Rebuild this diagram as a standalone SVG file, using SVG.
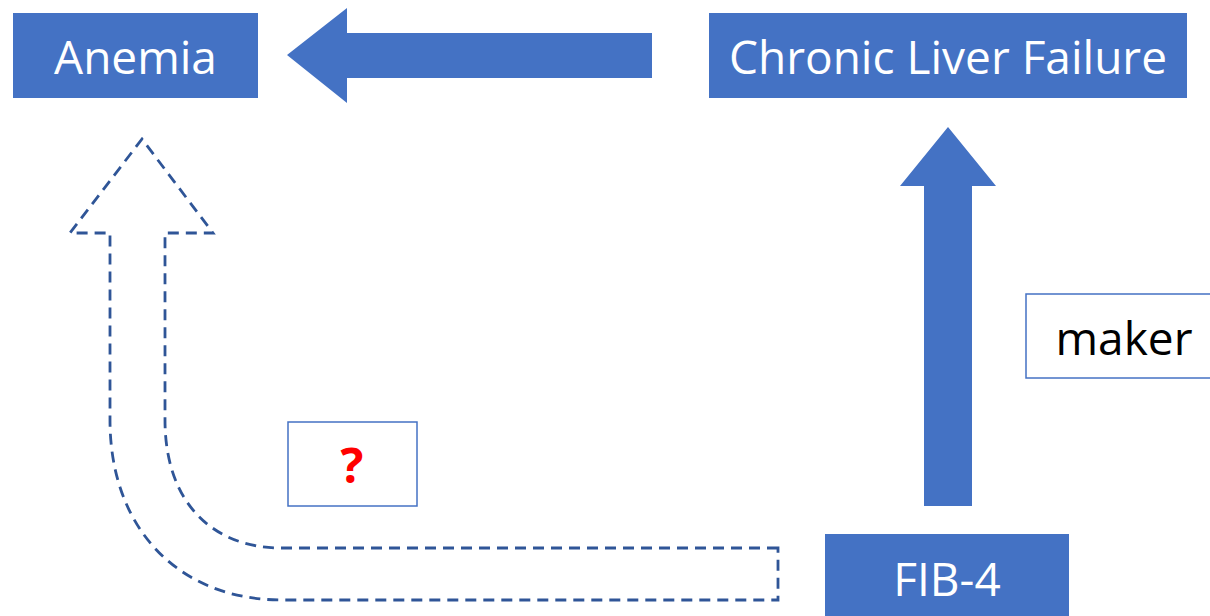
<svg xmlns="http://www.w3.org/2000/svg" width="1210" height="616" viewBox="0 0 1210 616">
<style>
.box{fill:#4472C4}
.lbl{font-family:"Open Sans","Noto Sans","Liberation Sans",sans-serif;fill:#fff;text-anchor:middle;font-size:46px}
.arrow{fill:#4472C4}
.dash{fill:none;stroke:#2F5597;stroke-width:2.8;stroke-dasharray:11 7}
.note{fill:#fff;stroke:#4472C4;stroke-width:1.5}
</style>
<rect width="1210" height="616" fill="#fff"/>
<g id="anemia">
<rect class="box" x="13" y="13" width="245" height="85"/>
<text class="lbl" x="135.5" y="74">Anemia</text>
</g>
<g id="clf">
<rect class="box" x="709" y="13" width="478" height="85"/>
<text class="lbl" x="948" y="74">Chronic Liver Failure</text>
</g>
<g id="fib4">
<rect class="box" x="825" y="534" width="244" height="82"/>
<text class="lbl" x="947" y="596">FIB-4</text>
</g>
<g id="maker">
<rect class="note" x="1026" y="294" width="190" height="84"/>
<text x="1124" y="355" font-size="46" font-family="'Open Sans','Noto Sans','Liberation Sans',sans-serif" fill="#000" text-anchor="middle">maker</text>
</g>
<g id="question">
<rect class="note" x="288" y="422" width="129" height="84"/>
<text x="352" y="483" font-size="48" font-weight="bold" font-family="'Open Sans','Noto Sans','Liberation Sans',sans-serif" fill="#FF0000" text-anchor="middle">?</text>
</g>
<g id="connectors">
<polygon class="arrow" points="287,55 347,8 347,33 652,33 652,78 347,78 347,103"/>
<polygon class="arrow" points="948,127 996,186 972,186 972,506 924,506 924,186 900,186"/>
<path class="dash" d="M778,548 L282,548 C210,548 165,500 165,420 L165,233 L213,233 L142,139 L70,233 L110,233 L110,420 C110,530 180,600 282,600 L778,600 Z"/>
</g>
</svg>
